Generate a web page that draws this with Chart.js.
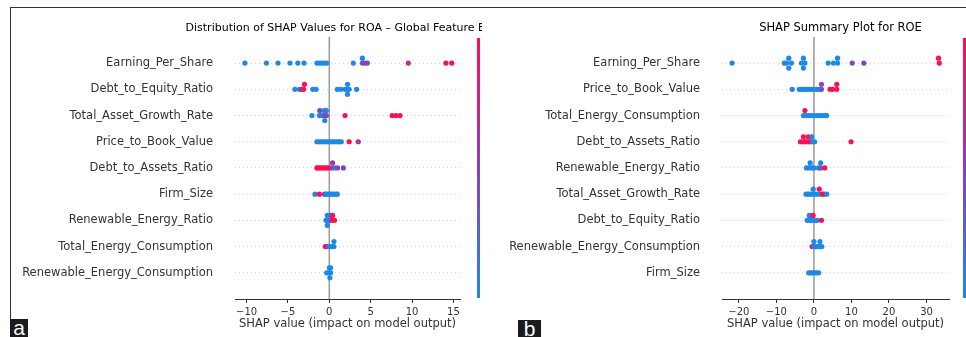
<!DOCTYPE html>
<html>
<head>
<meta charset="utf-8">
<script src="https://cdn.jsdelivr.net/npm/chart.js@4"></script>
<style>
  body { margin: 0; background: #fff; width: 966px; height: 337px; overflow: hidden; position: relative; }
  canvas { position: absolute; top: 8px; }
  #roa { left: 11px; }
  #roe { left: 482px; }
  .frame-top { position: absolute; left: 10px; top: 7px; width: 956px; height: 1px; background: #333; }
  .frame-left { position: absolute; left: 10px; top: 7px; width: 1px; height: 330px; background: #333; }
  .tag { position: absolute; background: #1b1b1b; color: #fff; font-family: "Liberation Sans", Arial, sans-serif;
         font-size: 21px; line-height: 17px; text-align: center; overflow: hidden; z-index: 2; }
</style>
</head>
<body>
<div class="frame-top"></div>
<div class="frame-left"></div>
<canvas id="roa" width="471" height="329"></canvas>
<canvas id="roe" width="484" height="329"></canvas>
<div class="tag" style="left:10px;top:319px;width:18px;height:18px;">a</div>
<div class="tag" style="left:518px;top:320px;width:23px;height:17px;">b</div>
<script>
// ROA panel (a) - features top to bottom
roaFeatures = ['Earning_Per_Share', 'Debt_to_Equity_Ratio', 'Total_Asset_Growth_Rate', 'Price_to_Book_Value',
  'Debt_to_Assets_Ratio', 'Firm_Size', 'Renewable_Energy_Ratio', 'Total_Energy_Consumption', 'Renewable_Energy_Consumption'];
roaShap = [
  [-10.2, -7.6, -6.2, -4.75, -3.8, -3.06, -1.5, -1.2, -0.9, -0.6, -0.3, 2.9, 4.0, 4.0, 4.3, 4.6, 9.55, 14.1, 14.8],
  [-4.15, -3.6, -3.35, -3.1, -3.0, -2.0, -1.6, 0.97, 1.4, 1.9, 2.2, 2.2, 2.2, 2.4, 3.3],
  [-2.1, -1.2, -0.95, -0.6, -0.35, -1.15, -0.65, -0.35, -0.55, 1.9, 7.6, 8.07, 8.55],
  [-1.5, -1.25, -1.0, -0.75, -0.5, -0.25, 0, 0.25, 0.5, 0.75, 1.0, 1.2, 1.45, 2.4, 3.5],
  [-1.5, -1.3, -1.06, -0.8, -0.56, -0.32, -0.08, 0.29, 0.4, 0.65, 1.0, 1.7],
  [-1.73, -1.2, -0.6, -0.4, -0.16, 0.08, 0.3, 0.56, 0.8, 0.97],
  [-0.24, 0.08, 0.4, -0.4, -0.16, 0.08, 0.3, 0.63, -0.24],
  [-0.48, -0.24, 0, 0.3, 0.56, 0.56],
  [0, 0.16, -0.32, -0.08, 0.16, 0.08]
];
// feature value (0 = low / blue, 1 = high / red)
roaLevel = [
  [0, 0, 0, 0, 0, 0, 0, 0, 0, 0, 0, 0, 0, 0.4, 0.45, 0.45, 0.7, 1, 1],
  [0, 0, 0.75, 1, 1, 0, 0, 0, 0, 0, 0, 0, 0, 0, 0],
  [0, 0, 0, 0.5, 0.5, 0.5, 0, 0, 0, 0.9, 1, 1, 1],
  [0, 0, 0, 0, 0, 0, 0, 0, 0, 0, 0, 0, 0, 1, 0.7],
  [1, 1, 1, 1, 1, 1, 1, 0.75, 0.55, 0, 0.45, 0.45],
  [0, 1, 0.6, 0, 0, 0, 0, 0, 0, 0],
  [0, 0, 1, 0, 0, 0, 1, 1, 0],
  [1, 0.8, 0, 0, 0, 0],
  [0, 0, 0, 0, 0, 0]
];
// beeswarm layer (-1 below, 0 on the row, 1 above)
roaLayer = [
  [0, 0, 0, 0, 0, 0, 0, 0, 0, 0, 0, 0, 1, 0, 0, 0, 0, 0, 0],
  [0, 0, 0, 0, 1, 0, 0, 0, 0, 0, 0, 1, -1, 0, 0],
  [0, 0, 0, 0, 0, 1, 1, 1, -1, 0, 0, 0, 0],
  [0, 0, 0, 0, 0, 0, 0, 0, 0, 0, 0, 0, 0, 0, 0],
  [0, 0, 0, 0, 0, 0, 0, 0, 1, 0, 0, 0],
  [0, 0, 0, 0, 0, 0, 0, 0, 0, 0],
  [1, 1, 1, 0, 0, 0, 0, 0, -1],
  [0, 0, 0, 0, 0, 1],
  [1, 1, 0, 0, 0, -1]
];
roaTicks = [-10, -5, 0, 5, 10, 15];

// ROE panel (b)
roeFeatures = ['Earning_Per_Share', 'Price_to_Book_Value', 'Total_Energy_Consumption', 'Debt_to_Assets_Ratio',
  'Renewable_Energy_Ratio', 'Total_Asset_Growth_Rate', 'Debt_to_Equity_Ratio', 'Renewable_Energy_Consumption', 'Firm_Size'];
roeShap = [
  [-21.8, -7.9, -7.3, -6.7, -6.7, -6.0, -3.3, -2.8, -2.8, -2.4, 3.8, 5.2, 6.3, 6.3, 10.2, 13.3, 33.2, 33.4],
  [-5.8, -3.9, -3.3, -2.7, -2.0, -1.3, -0.6, 0, 0.7, 1.3, 2.0, 2.0, 4.3, 5.0, 6.1, 6.1],
  [-2.4, -2.8, -2.1, -1.4, -0.7, 0, 0.7, 1.4, 2.1, 2.8, 3.4],
  [-2.8, -1.5, -0.6, -3.6, -3.0, -2.5, -2.0, -1.4, -0.9, -0.36, 0.18, 9.9],
  [-1.0, 1.8, -2.0, -1.25, -0.5, 0, 1.2, 1.8, 2.9],
  [-0.2, 1.4, -2.1, -1.5, -0.9, -0.2, 0.5, 1.4, 2.3, 2.7, 3.4],
  [-1.25, -0.7, -0.2, -1.8, -1.25, -0.7, -0.2, 0.36, 0.9, 2.0],
  [0, 1.6, -0.5, 0, 0.5, 1.1, 1.6, 2.1],
  [-1.4, -0.9, -0.36, 0.18, 0.7, 1.25]
];
roeLevel = [
  [0, 0, 0, 0, 0, 0, 0, 0, 0, 0, 0, 0, 0, 0, 0.4, 0.55, 1, 1],
  [0, 0, 0, 0, 0, 0, 0, 0, 0, 0, 0.45, 0.45, 1, 1, 1, 1],
  [1, 0, 0, 0, 0, 0, 0, 0, 0, 0, 0],
  [1, 1, 0, 1, 1, 1, 1, 1, 1, 0, 0, 1],
  [0, 0, 0, 0, 0, 0, 0, 0.3, 1],
  [0, 1, 0, 0, 0, 0, 0, 0, 1, 1, 0],
  [0, 0, 1, 0, 0, 0, 0, 0, 0, 1],
  [0, 0, 1, 0, 0, 0, 0, 0],
  [0, 0, 0, 0, 0, 0]
];
roeLayer = [
  [0, 0, 0, 1, -1, 0, 0, 1, -1, 0, 0, 0, 0, 1, 0, 0, 1, 0],
  [0, 0, 0, 0, 0, 0, 0, 0, 0, 0, 1, 0, 0, 0, 1, 0],
  [1, 0, 0, 0, 0, 0, 0, 0, 0, 0, 0],
  [1, 1, 1, 0, 0, 0, 0, 0, 0, 0, 0, 0],
  [1, 1, 0, 0, 0, 0, 0, 0, 0],
  [1, 1, 0, 0, 0, 0, 0, 0, 0, 0, 0],
  [1, 1, 1, 0, 0, 0, 0, 0, 0, 0],
  [1, 1, 0, 0, 0, 0, 0, 0],
  [0, 0, 0, 0, 0, 0]
];
roeTicks = [-20, -10, 0, 10, 20, 30];

blue = [30, 136, 229];
purple = [138, 64, 190];
red = [255, 13, 87];

mix = function(a, b, t) {
  return a.map((c, i) => Math.round(c + (b[i] - c) * t));
}
levelColor = function(t) {
  c = t < 0.5 ? mix(blue, purple, t * 2) : mix(purple, red, (t - 0.5) * 2);
  return `rgb(${c[0]}, ${c[1]}, ${c[2]})`;
}

// zero line, panel title and colour bar
shapDecor = {
  id: 'shapDecor',
  beforeDatasetsDraw(chart, args, opts) {
    const ctx = chart.ctx, a = chart.chartArea;
    const x0 = chart.scales.x.getPixelForValue(0);
    ctx.save();
    ctx.strokeStyle = '#999999';
    ctx.lineWidth = 1.5;
    ctx.beginPath();
    ctx.moveTo(x0, a.top);
    ctx.lineTo(x0, a.bottom);
    ctx.stroke();
    ctx.restore();
  },
  afterDraw(chart, args, opts) {
    const ctx = chart.ctx, a = chart.chartArea;
    ctx.save();
    ctx.fillStyle = '#000';
    ctx.font = opts.titleSize + 'px "DejaVu Sans"';
    ctx.textAlign = 'center';
    ctx.textBaseline = 'middle';
    ctx.fillText(opts.title, (a.left + a.right) / 2 + opts.titleShift, a.top - 9);
    const g = ctx.createLinearGradient(0, a.top + 1, 0, a.bottom - 1);
    g.addColorStop(0, levelColor(1));
    g.addColorStop(0.5, levelColor(0.5));
    g.addColorStop(1, levelColor(0));
    ctx.fillStyle = g;
    ctx.fillRect(a.right + opts.barGap, a.top + 1, 3, a.bottom - a.top - 2);
    ctx.restore();
  }
};

makeChart = function(id, features, shap, level, layer, ticks, xMin, xMax, yWidth, padRight, barGap, title, titleSize, titleShift) {
  const datasets = features.map((f, i) => ({
    label: f,
    data: shap[i].map((v, j) => ({ x: v, y: 9 - i + layer[i][j] * 0.19 })),
    pointBackgroundColor: level[i].map(levelColor),
    pointRadius: 2.6,
    pointHoverRadius: 2.6,
    pointBorderWidth: 0
  }));
  return new Chart(document.getElementById(id), {
    type: 'scatter',
    data: { datasets: datasets },
    plugins: [shapDecor],
    options: {
      responsive: false,
      animation: false,
      layout: { padding: { left: 0, right: padRight, top: 24, bottom: 0 } },
      plugins: {
        legend: { display: false },
        tooltip: { enabled: false },
        shapDecor: { title: title, barGap: barGap, titleSize: titleSize, titleShift: titleShift }
      },
      scales: {
        x: {
          type: 'linear',
          min: xMin,
          max: xMax,
          afterBuildTicks: s => { s.ticks = ticks.map(v => ({ value: v })); },
          afterFit: s => { s.height = 38; },
          grid: { drawOnChartArea: false, drawTicks: true, tickLength: 4, color: '#333333' },
          border: { display: true, color: '#333333', width: 1 },
          ticks: {
            padding: 3,
            color: '#333333',
            font: { family: 'DejaVu Sans', size: 10 },
            callback: v => String(v).replace('-', '\u2212')
          },
          title: {
            display: true,
            text: 'SHAP value (impact on model output)',
            color: '#333333',
            font: { family: 'DejaVu Sans', size: 11.5 },
            padding: { top: 0, bottom: 6 }
          }
        },
        y: {
          type: 'linear',
          min: 0,
          max: 10,
          afterBuildTicks: s => { s.ticks = features.map((f, i) => ({ value: 9 - i })); },
          afterFit: s => { s.width = yWidth; },
          grid: { drawTicks: false, color: '#d4d4d4', lineWidth: 1 },
          border: { display: false, dash: [1, 3] },
          ticks: {
            padding: 22,
            autoSkip: false,
            color: '#333333',
            font: { family: 'DejaVu Sans', size: 11.5 },
            callback: v => features[9 - v]
          }
        }
      }
    }
  });
}

roaChart = makeChart('roa', roaFeatures, roaShap, roaLevel, roaLayer, roaTicks, -11.4, 15.8, 224, 22, 17,
  'Distribution of SHAP Values for ROA \u2013 Global Feature Effects', 11, 3);
roeChart = makeChart('roe', roeFeatures, roeShap, roeLevel, roeLayer, roeTicks, -24.5, 36.0, 240, 17, 14,
  'SHAP Summary Plot for ROE', 11.5, 5);
</script>
</body>
</html>
